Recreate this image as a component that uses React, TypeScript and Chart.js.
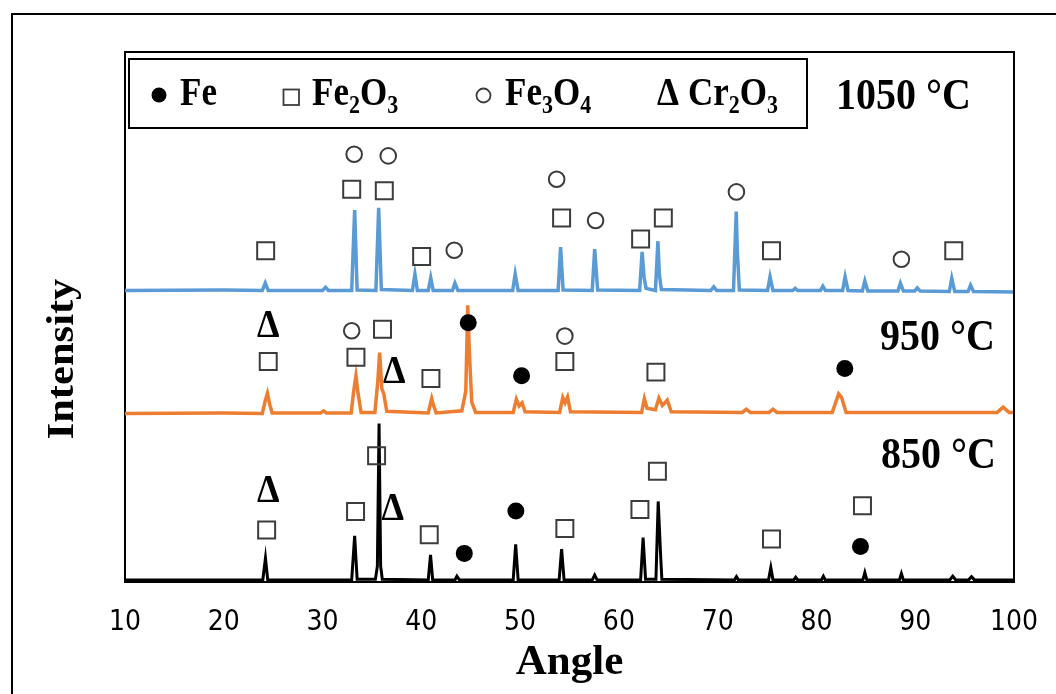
import React, { useEffect, useRef } from "react";
import { Chart, registerables } from "chart.js";

Chart.register(...registerables);

// ---------- data ----------
const xTickValues = [10, 20, 30, 40, 50, 60, 70, 80, 90, 100];

const angles1050 = [10, 20, 23.9, 24.2, 24.5, 30.0, 30.3, 30.6, 32.95, 33.25, 33.5, 35.4, 35.68, 35.95, 39.1, 39.35, 39.6, 40.7, 40.95, 41.2, 43.15, 43.4, 43.7, 49.25, 49.5, 49.8, 53.85, 54.1, 54.35, 57.3, 57.55, 57.85, 62.1, 62.35, 62.55, 62.75, 63.7, 63.95, 64.1, 64.3, 69.3, 69.6, 69.9, 71.6, 71.88, 72.0, 72.2, 75.05, 75.3, 75.6, 77.6, 77.85, 78.1, 80.4, 80.65, 80.9, 82.65, 82.9, 83.2, 84.65, 84.9, 85.2, 88.25, 88.5, 88.8, 89.95, 90.2, 90.5, 93.45, 93.7, 94.0, 95.35, 95.6, 95.9, 100];
const intensity1050 = [55.0, 55.1, 55.0, 56.4, 55.0, 55.0, 55.6, 55.0, 55.0, 70.2, 55.1, 55.0, 70.6, 55.2, 55.0, 58.1, 55.0, 55.0, 57.4, 55.0, 55.0, 56.4, 55.0, 55.0, 58.1, 55.0, 55.0, 63.2, 55.1, 55.0, 62.8, 55.1, 55.0, 62.3, 57.5, 55.4, 55.0, 64.3, 58.0, 55.2, 55.0, 55.7, 55.0, 55.0, 69.9, 62.0, 55.1, 55.0, 57.6, 55.0, 55.0, 55.4, 55.0, 55.0, 55.8, 55.0, 55.0, 57.6, 55.0, 54.9, 56.8, 54.9, 54.9, 56.4, 54.9, 54.9, 55.5, 54.9, 54.8, 57.3, 54.8, 54.8, 56.0, 54.8, 54.7];

const angles950 = [10, 20, 23.9, 24.2, 24.42, 24.65, 24.9, 29.8, 30.1, 30.4, 32.9, 33.15, 33.38, 33.6, 33.9, 35.3, 35.6, 35.78, 36.0, 36.2, 36.5, 40.7, 41.05, 41.2, 41.5, 44.1, 44.5, 44.7, 44.85, 45.1, 45.5, 49.3, 49.62, 49.9, 50.2, 50.5, 54.0, 54.32, 54.55, 54.8, 55.1, 62.3, 62.58, 62.85, 63.7, 64.05, 64.4, 64.9, 65.3, 72.5, 72.9, 73.3, 75.2, 75.6, 76.0, 81.6, 82.25, 82.55, 83.0, 98.3, 98.9, 99.5, 100];
const intensity950 = [31.8, 31.9, 31.8, 34.2, 35.6, 33.5, 31.9, 31.9, 32.3, 31.9, 31.9, 36.0, 38.9, 35.5, 32.0, 32.0, 38.0, 43.3, 36.5, 35.5, 32.2, 31.9, 34.6, 33.5, 31.9, 32.3, 36.0, 52.2, 44.0, 34.0, 32.0, 32.0, 34.5, 33.2, 33.8, 32.1, 32.0, 34.8, 33.8, 34.9, 32.1, 32.0, 34.6, 32.8, 32.5, 34.7, 33.3, 34.3, 32.1, 32.0, 32.6, 32.0, 32.0, 32.6, 32.0, 32.0, 35.5, 34.8, 32.0, 32.0, 33.0, 32.0, 32.0];

const angles850 = [10, 23.95, 24.22, 24.45, 32.95, 33.25, 33.5, 35.35, 35.55, 35.72, 35.88, 36.05, 40.7, 40.93, 41.15, 43.4, 43.6, 43.85, 49.3, 49.55, 49.8, 53.95, 54.2, 54.45, 57.3, 57.55, 57.8, 62.2, 62.45, 62.7, 63.75, 63.98, 64.2, 64.35, 71.7, 71.9, 72.1, 75.15, 75.38, 75.6, 77.7, 77.9, 78.1, 80.5, 80.7, 80.9, 84.7, 84.9, 85.1, 88.4, 88.6, 88.8, 93.5, 93.8, 94.1, 95.4, 95.7, 96.0, 100];
const intensity850 = [0.4, 0.4, 4.5, 0.4, 0.4, 8.7, 0.5, 0.5, 3.0, 29.9, 3.0, 0.5, 0.4, 5.1, 0.4, 0.4, 1.1, 0.4, 0.4, 7.1, 0.4, 0.4, 6.2, 0.4, 0.4, 1.3, 0.4, 0.4, 8.4, 0.5, 0.5, 15.2, 6.0, 0.5, 0.4, 1.0, 0.4, 0.4, 2.7, 0.4, 0.4, 0.9, 0.4, 0.4, 1.1, 0.4, 0.4, 1.8, 0.4, 0.4, 1.6, 0.4, 0.4, 1.1, 0.4, 0.4, 1.0, 0.4, 0.4];

// phase markers: Fe2O3 squares, Fe3O4 rings, Fe dots, Cr2O3 deltas
const squareAngles = [24.24, 32.95, 36.25, 40.03, 54.2, 62.2, 64.5, 75.45, 93.9, 24.5, 33.38, 36.07, 40.97, 54.53, 63.75, 24.34, 33.34, 35.47, 40.8, 54.53, 62.13, 63.9, 75.45, 84.66];
const squareLevels = [62.5, 74.1, 73.8, 61.4, 68.7, 64.7, 68.7, 62.5, 62.5, 41.6, 42.4, 47.7, 38.4, 41.6, 39.6, 9.8, 13.3, 23.8, 8.9, 10.1, 13.7, 20.9, 8.1, 14.4];
const ringAngles = [33.2, 36.65, 43.33, 53.7, 57.64, 71.9, 88.6, 32.95, 54.53];
const ringLevels = [80.7, 80.4, 62.6, 76.0, 68.2, 73.6, 60.9, 47.4, 46.4];
const dotAngles = [44.75, 50.15, 82.87, 44.35, 49.57, 84.46];
const dotLevels = [48.9, 38.9, 40.3, 5.4, 13.4, 6.7];
const deltaAngles = [24.5, 37.26, 24.5, 37.1];
const deltaLevels = [48.8, 40.1, 17.7, 14.2];

const legendLabels = ["Fe", "Fe2O3", "Fe3O4", "Cr2O3"];
const tempLabels = ["1050 °C", "950 °C", "850 °C"];
const xTitle = "Angle";
const yTitle = "Intensity";

// ---------- helpers ----------
const SERIF = '"Liberation Serif", "Times New Roman", serif';
const STRETCH = 1.12;
const MARK = "#3c3c3c";

function pts(xs: number[], ys: number[]) {
  return xs.map((x, i) => ({ x, y: ys[i] }));
}

function drawFormula(ctx: CanvasRenderingContext2D, text: string, x: number, baseY: number, size: number, subscripts: boolean) {
  ctx.save();
  ctx.translate(x, baseY);
  ctx.scale(1, STRETCH);
  ctx.textAlign = "left";
  ctx.textBaseline = "alphabetic";
  ctx.fillStyle = "#000";
  let cx = 0;
  const runs = subscripts ? text.match(/[0-9]+|[^0-9]+/g) || [] : [text];
  for (const r of runs) {
    const isSub = subscripts && /^[0-9]+$/.test(r);
    ctx.font = `bold ${isSub ? Math.round(size * 0.62) : size}px ${SERIF}`;
    ctx.fillText(r, cx, isSub ? 8 / STRETCH : 0);
    cx += ctx.measureText(r).width;
  }
  ctx.restore();
}

function drawDelta(ctx: CanvasRenderingContext2D, cx: number, cy: number, size: number) {
  ctx.save();
  ctx.font = `bold ${size}px ${SERIF}`;
  ctx.textAlign = "center";
  ctx.textBaseline = "alphabetic";
  ctx.fillStyle = "#000";
  const cap = size * 0.676 * STRETCH;
  ctx.translate(cx, cy + cap / 2);
  ctx.scale(1, STRETCH);
  ctx.fillText("\u0394", 0, 0);
  ctx.restore();
}

const decorPlugin = {
  id: "decor",
  afterDatasetsDraw(chart: any) {
    const ctx: CanvasRenderingContext2D = chart.ctx;
    const xs = chart.scales.x;
    const ys = chart.scales.y;
    deltaAngles.forEach((a, i) => {
      drawDelta(ctx, xs.getPixelForValue(a), ys.getPixelForValue(deltaLevels[i]), 36);
    });
  },
  afterDraw(chart: any) {
    const ctx: CanvasRenderingContext2D = chart.ctx;
    const ca = chart.chartArea;
    ctx.save();
    ctx.strokeStyle = "#000";
    ctx.lineWidth = 2;
    ctx.strokeRect(12, 14, 1200, 900);
    ctx.beginPath();
    ctx.moveTo(ca.left, ca.top);
    ctx.lineTo(ca.right, ca.top);
    ctx.lineTo(ca.right, ca.bottom);
    ctx.stroke();
    ctx.fillStyle = "#fff";
    ctx.fillRect(129, 59, 678, 69);
    ctx.strokeRect(129, 59, 678, 69);
    ctx.fillStyle = "#000";
    ctx.beginPath();
    ctx.arc(159, 95, 7.5, 0, Math.PI * 2);
    ctx.fill();
    ctx.strokeStyle = MARK;
    ctx.lineWidth = 1.8;
    ctx.strokeRect(283.5, 89.5, 15.5, 15.5);
    ctx.beginPath();
    ctx.arc(483.5, 95.5, 7, 0, Math.PI * 2);
    ctx.stroke();
    ctx.restore();
    drawFormula(ctx, legendLabels[0], 180, 105, 35, true);
    drawFormula(ctx, legendLabels[1], 312, 105, 35, true);
    drawFormula(ctx, legendLabels[2], 505, 105, 35, true);
    drawFormula(ctx, "\u0394", 657, 105, 35, false);
    drawFormula(ctx, legendLabels[3], 688, 105, 35, true);
    drawFormula(ctx, tempLabels[0], 836, 109, 40, false);
    drawFormula(ctx, tempLabels[1], 880, 350, 40, false);
    drawFormula(ctx, tempLabels[2], 881, 468, 40, false);
    ctx.save();
    ctx.translate(73, 359);
    ctx.rotate(-Math.PI / 2);
    ctx.scale(STRETCH, 1);
    ctx.font = `bold 38px ${SERIF}`;
    ctx.textAlign = "center";
    ctx.textBaseline = "alphabetic";
    ctx.fillStyle = "#000";
    ctx.fillText(yTitle, 0, 0);
    ctx.restore();
  },
};

export default function App() {
  const ref = useRef<HTMLCanvasElement | null>(null);
  useEffect(() => {
    if (!ref.current) return;
    const lineDs = (label: string, xs: number[], ys: number[], color: string, w: number) => ({
      type: "scatter" as const,
      label,
      data: pts(xs, ys),
      showLine: true,
      borderColor: color,
      backgroundColor: color,
      borderWidth: w,
      pointRadius: 0,
      tension: 0,
      order: 2,
    });
    const chart = new Chart(ref.current, {
      type: "scatter",
      data: {
        datasets: [
          {
            label: "Fe2O3",
            data: pts(squareAngles, squareLevels),
            pointStyle: "rect",
            pointRadius: 12,
            pointBorderWidth: 2,
            pointBorderColor: MARK,
            pointBackgroundColor: "rgba(0,0,0,0)",
            order: 0,
          } as any,
          {
            label: "Fe3O4",
            data: pts(ringAngles, ringLevels),
            pointStyle: "circle",
            pointRadius: 7.8,
            pointBorderWidth: 2,
            pointBorderColor: MARK,
            pointBackgroundColor: "rgba(0,0,0,0)",
            order: 0,
          } as any,
          {
            label: "Fe",
            data: pts(dotAngles, dotLevels),
            pointStyle: "circle",
            pointRadius: 8.5,
            pointBorderWidth: 0,
            pointBorderColor: "#000",
            pointBackgroundColor: "#000",
            order: 0,
          } as any,
          lineDs("1050 °C", angles1050, intensity1050, "#5b9bd5", 3.5),
          lineDs("950 °C", angles950, intensity950, "#ed7d31", 3.5),
          lineDs("850 °C", angles850, intensity850, "#000000", 3),
        ],
      },
      options: {
        responsive: false,
        animation: false,
        events: [],
        layout: { padding: { left: 0, top: 52, right: 42, bottom: 0 } },
        plugins: {
          legend: { display: false },
          tooltip: { enabled: false },
        },
        scales: {
          x: {
            type: "linear",
            min: 10,
            max: 100,
            afterBuildTicks: (s: any) => {
              s.ticks = xTickValues.map((v) => ({ value: v }));
            },
            afterFit: (s: any) => {
              s.height = 112;
              s.paddingLeft = 0;
              s.paddingRight = 0;
            },
            ticks: {
              color: "#000",
              padding: 24,
              font: { family: '"Liberation Sans Narrow", "DejaVu Sans Condensed", sans-serif', size: 28 },
            },
            grid: { display: false, drawTicks: false },
            border: { display: true, color: "#000", width: 2 },
            title: {
              display: true,
              text: xTitle,
              color: "#000",
              font: { family: SERIF, size: 43, weight: "bold" },
              padding: { top: 0, bottom: 5 },
            },
          },
          y: {
            type: "linear",
            min: 0,
            max: 100,
            afterFit: (s: any) => {
              s.width = 125;
            },
            ticks: { display: false },
            grid: { display: false, drawTicks: false },
            border: { display: true, color: "#000", width: 2 },
          },
        },
      } as any,
      plugins: [decorPlugin],
    });
    return () => chart.destroy();
  }, []);
  return (
    <div style={{ position: "fixed", left: 0, top: 0, width: 1056, height: 694, background: "#fff" }}>
      <canvas ref={ref} width={1056} height={694} style={{ display: "block", width: 1056, height: 694 }} />
    </div>
  );
}
